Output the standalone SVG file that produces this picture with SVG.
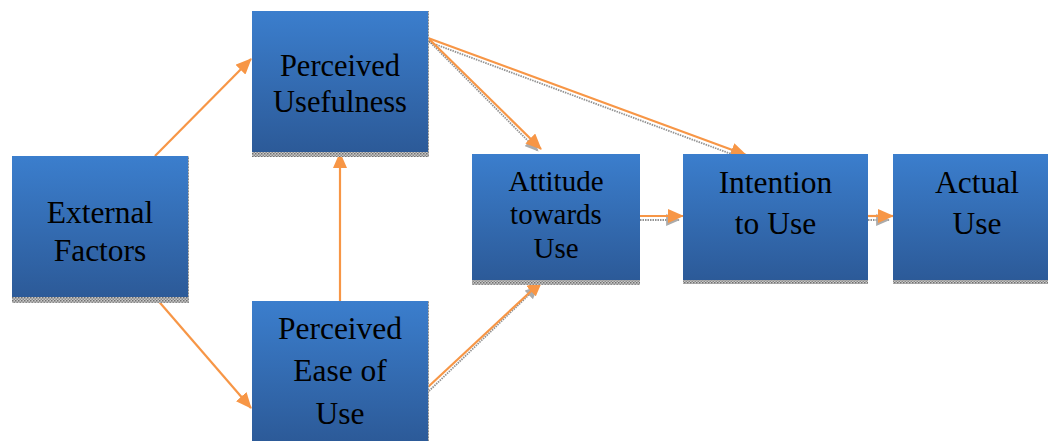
<svg xmlns="http://www.w3.org/2000/svg" width="1048" height="441" viewBox="0 0 1048 441">
<defs>
  <linearGradient id="boxg" x1="0" y1="0" x2="0" y2="1">
    <stop offset="0" stop-color="#3B7ECD"/>
    <stop offset="1" stop-color="#2C5A98"/>
  </linearGradient>
  <pattern id="shp" width="3" height="3" patternUnits="userSpaceOnUse">
    <rect width="3" height="3" fill="#c8c8c8"/>
    <rect width="1.5" height="1.5" fill="#707070"/>
    <rect x="1.5" y="1.5" width="1.5" height="1.5" fill="#8a8a8a"/>
  </pattern>
  <marker id="ah" viewBox="0 0 16 14" refX="15" refY="7" markerWidth="16" markerHeight="14" markerUnits="userSpaceOnUse" orient="auto">
    <path d="M0,0 L16,7 L0,14 Z" fill="#F79646"/>
  </marker>
  <marker id="ahs" viewBox="0 0 16 14" refX="15" refY="7" markerWidth="14" markerHeight="12" markerUnits="userSpaceOnUse" orient="auto">
    <path d="M0,0 L16,7 L0,14 Z" fill="#888"/>
  </marker>
</defs>
<style>
  .box { fill: url(#boxg); }
  .sh { fill: url(#shp); }
  .t { fill: #000; text-anchor: middle; font-family: "Times New Roman", Tinos, "Liberation Serif", "DejaVu Serif", serif; }
  .c { stroke: #F79646; stroke-width: 2.2; fill: none; marker-end: url(#ah); }
  .cs { stroke: #666; stroke-width: 1.8; stroke-dasharray: 1.5 1; fill: none; marker-end: url(#ahs); opacity: 0.7; }
</style>
<rect width="1048" height="441" fill="#fff"/>

<g id="connectors">
  <line class="cs" x1="429" y1="41" x2="538" y2="151"/>
  <line class="cs" x1="429" y1="42" x2="742" y2="158"/>
  <line class="cs" x1="429" y1="391" x2="538" y2="286"/>
  <line class="cs" x1="640" y1="220" x2="679" y2="220"/>
  <line class="cs" x1="868" y1="220" x2="889" y2="220"/>
  <line class="c" x1="155" y1="156" x2="251" y2="59"/>
  <line class="c" x1="155" y1="297" x2="251" y2="408"/>
  <line class="c" x1="340" y1="301" x2="340" y2="153"/>
  <line class="c" x1="428" y1="38" x2="541" y2="149"/>
  <line class="c" x1="428" y1="38" x2="746" y2="155"/>
  <line class="c" x1="428" y1="387" x2="542" y2="281"/>
  <line class="c" x1="640" y1="216" x2="683" y2="216"/>
  <line class="c" x1="868" y1="216" x2="893" y2="216"/>
</g>

<g id="external-factors">
  <rect class="sh" x="12" y="297" width="177" height="6"/>
  <rect class="sh" x="187" y="156" width="2" height="142"/>
  <rect class="box" x="12" y="156" width="176" height="141"/>
  <text class="t" font-size="31.5" x="100" y="223">External</text>
  <text class="t" font-size="31.5" x="100" y="261">Factors</text>
</g>

<g id="perceived-usefulness">
  <rect class="sh" x="252" y="152" width="177" height="5"/>
  <rect class="sh" x="427" y="11" width="2" height="142"/>
  <rect class="box" x="252" y="11" width="176" height="141"/>
  <text class="t" font-size="30.5" x="340" y="76">Perceived</text>
  <text class="t" font-size="30.5" x="340" y="112">Usefulness</text>
</g>

<g id="perceived-ease-of-use">
  <rect class="sh" x="427" y="301" width="2" height="140"/>
  <rect class="box" x="252" y="301" width="176" height="141"/>
  <text class="t" font-size="31.5" x="340" y="339">Perceived</text>
  <text class="t" font-size="31.5" x="340" y="381">Ease of</text>
  <text class="t" font-size="31.5" x="340" y="424">Use</text>
</g>

<g id="attitude-towards-use">
  <rect class="sh" x="472" y="280" width="168" height="5"/>
  <rect class="box" x="472" y="154" width="168" height="126"/>
  <text class="t" font-size="29" x="556" y="191">Attitude</text>
  <text class="t" font-size="29" x="556" y="224">towards</text>
  <text class="t" font-size="29" x="556" y="258">Use</text>
</g>

<g id="intention-to-use">
  <rect class="sh" x="683" y="280" width="185" height="4"/>
  <rect class="box" x="683" y="154" width="185" height="126"/>
  <text class="t" font-size="31.5" x="775.5" y="193">Intention</text>
  <text class="t" font-size="31.5" x="775.5" y="234">to Use</text>
</g>

<g id="actual-use">
  <rect class="sh" x="893" y="280" width="155" height="4"/>
  <rect class="box" x="893" y="154" width="160" height="126"/>
  <text class="t" font-size="31.5" x="977" y="193">Actual</text>
  <text class="t" font-size="31.5" x="977" y="234">Use</text>
</g>
</svg>
